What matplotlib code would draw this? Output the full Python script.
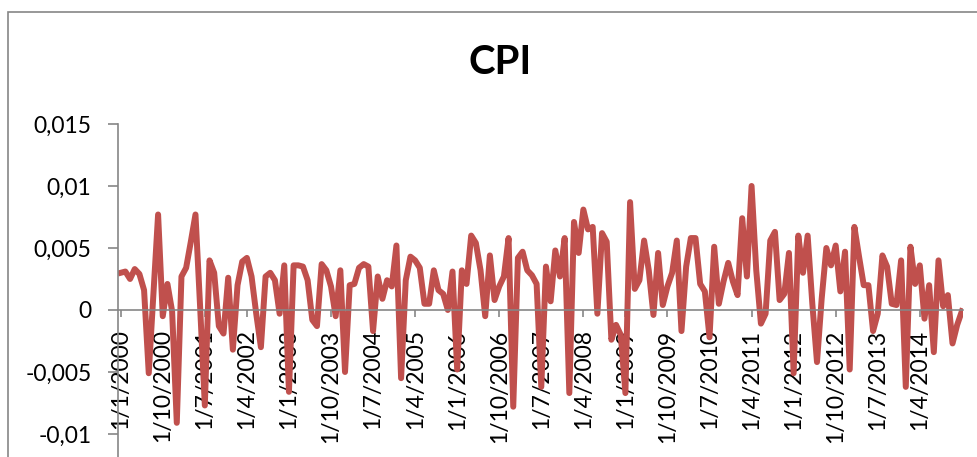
import matplotlib
matplotlib.use('Agg')
import matplotlib.pyplot as plt
from matplotlib.patches import Rectangle
import pandas as pd

# monthly CPI change, Jan 2000 .. Jan 2015
cpi = [
    0.0030, 0.0031, 0.0025, 0.0033, 0.0029, 0.0016, -0.0051, 0.0013, 0.0077, -0.0005, 0.0021, -0.0001,  # 2000
    -0.0091, 0.0027, 0.0034, 0.0055, 0.0077, 0.0002, -0.0077, 0.0040, 0.0030, -0.0013, -0.0019, 0.0026,  # 2001
    -0.0032, 0.0020, 0.0039, 0.0042, 0.0027, -0.0003, -0.0030, 0.0027, 0.0030, 0.0024, -0.0003, 0.0036,  # 2002
    -0.0066, 0.0036, 0.0036, 0.0035, 0.0024, -0.0008, -0.0013, 0.0037, 0.0032, 0.0019, -0.0005, 0.0032,  # 2003
    -0.0050, 0.0020, 0.0021, 0.0034, 0.0037, 0.0035, -0.0017, 0.0027, 0.0009, 0.0024, 0.0019, 0.0052,  # 2004
    -0.0055, 0.0024, 0.0043, 0.0040, 0.0034, 0.0005, 0.0005, 0.0032, 0.0016, 0.0013, 0.0000, 0.0031,  # 2005
    -0.0048, 0.0032, 0.0021, 0.0060, 0.0054, 0.0032, -0.0005, 0.0044, 0.0008, 0.0019, 0.0027, 0.0058,  # 2006
    -0.0078, 0.0042, 0.0047, 0.0032, 0.0028, 0.0021, -0.0062, 0.0035, 0.0007, 0.0048, 0.0027, 0.0058,  # 2007
    -0.0067, 0.0071, 0.0046, 0.0081, 0.0065, 0.0067, -0.0003, 0.0062, 0.0055, -0.0024, -0.0012, -0.0020,  # 2008
    -0.0067, 0.0087, 0.0017, 0.0024, 0.0056, 0.0032, -0.0004, 0.0046, 0.0004, 0.0019, 0.0030, 0.0056,  # 2009
    -0.0017, 0.0035, 0.0058, 0.0058, 0.0021, 0.0015, -0.0022, 0.0051, 0.0005, 0.0023, 0.0038, 0.0023,  # 2010
    0.0012, 0.0074, 0.0027, 0.0100, 0.0032, -0.0011, -0.0003, 0.0056, 0.0063, 0.0008, 0.0013, 0.0046,  # 2011
    -0.0051, 0.0060, 0.0030, 0.0060, 0.0005, -0.0042, 0.0009, 0.0050, 0.0036, 0.0052, 0.0015, 0.0047,  # 2012
    -0.0048, 0.0067, 0.0043, 0.0020, 0.0020, -0.0017, -0.0003, 0.0044, 0.0035, 0.0005, 0.0004, 0.0040,  # 2013
    -0.0062, 0.0051, 0.0021, 0.0036, -0.0007, 0.0020, -0.0034, 0.0040, 0.0003, 0.0012, -0.0027, -0.0012,  # 2014
    -0.0001,  # 2015
]
dates = pd.date_range('2000-01-01', periods=len(cpi), freq='MS')

y_ticks = [-0.01, -0.005, 0, 0.005, 0.01, 0.015]
y_labels = ['-0,01', '-0,005', '0', '0,005', '0,01', '0,015']

grey = '#868686'
plt.rcParams['font.family'] = ['Lato', 'DejaVu Sans']

fig = plt.figure(figsize=(9.78, 4.57), dpi=100)
fig.patch.set_facecolor('white')

# chart border (cut off on the right and at the bottom)
fig.patches.append(Rectangle((8 / 978, -0.2), 1.2, 1 - 12 / 457 + 0.2,
                             transform=fig.transFigure, fill=False,
                             edgecolor=grey, lw=1.2))

ax = fig.add_axes([118 / 978, -0.0853, 0.8638, 0.8140])
x = list(range(len(cpi)))
ax.plot(x, cpi, color='#C0504D', lw=4.3, solid_joinstyle='round')

ax.set_xlim(-0.58, 180.2)
ax.set_ylim(-0.015, 0.015)

for s in ['top', 'right']:
    ax.spines[s].set_visible(False)
ax.spines['bottom'].set_position(('data', 0))
ax.spines['bottom'].set_color(grey)
ax.spines['left'].set_color(grey)
ax.spines['bottom'].set_linewidth(1.2)
ax.spines['left'].set_linewidth(1.2)

ax.set_yticks(y_ticks)
ax.set_yticklabels(y_labels)
ax.tick_params(axis='y', direction='out', length=7, width=1.2, color=grey,
               labelsize=16.5, pad=12)

xt = list(range(0, len(cpi) - 1, 9))
ax.set_xticks(xt)
ax.set_xticklabels([f'1/{dates[i].month}/{dates[i].year}' for i in xt], rotation=90)
ax.tick_params(axis='x', direction='out', length=5, width=1.2, color=grey,
               labelsize=16.5, pad=9)

fig.text(500 / 978, 1 - 62 / 457, 'CPI', ha='center', va='center',
         fontsize=29, fontweight='bold')

plt.savefig('out.png', dpi=100)
